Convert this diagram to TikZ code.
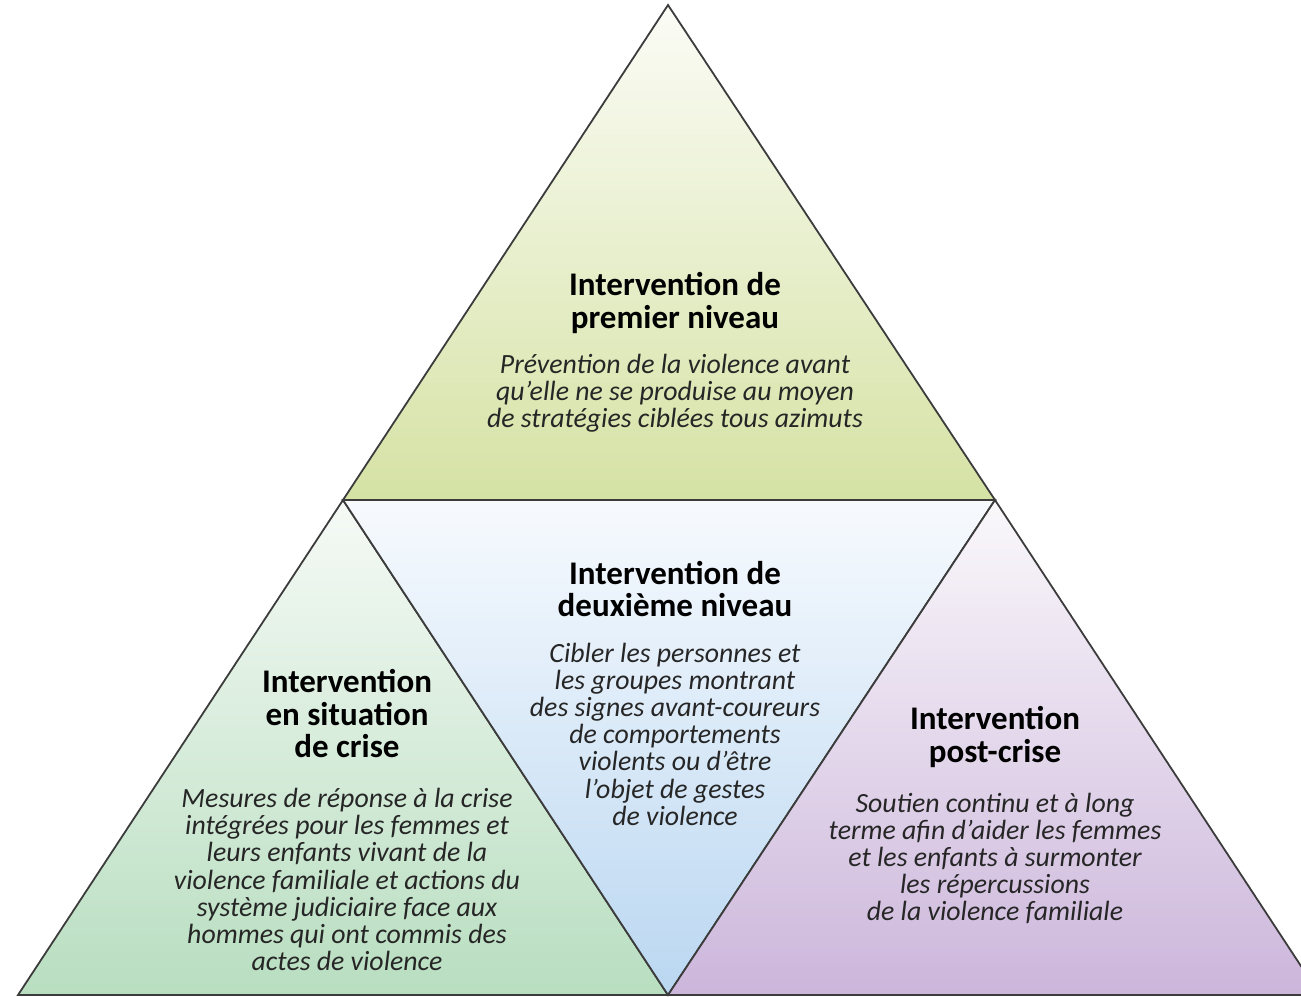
\documentclass[tikz,border=0pt]{standalone}
\usepackage{fontspec}
\setmainfont{Carlito}
\usepackage{tikz}
\usetikzlibrary{positioning}

\definecolor{edgegray}{HTML}{3C3C3C}
\definecolor{firsttop}{HTML}{FBFCF6}
\definecolor{firstbot}{HTML}{D5E2A4}
\definecolor{crisistop}{HTML}{F6FAF6}
\definecolor{crisisbot}{HTML}{B8DEC0}
\definecolor{secondtop}{HTML}{F7FAFE}
\definecolor{secondbot}{HTML}{BAD7F1}
\definecolor{posttop}{HTML}{FAF8FB}
\definecolor{postbot}{HTML}{CCB6DB}

\begin{document}
\begin{tikzpicture}[x=1pt, y=-1pt, node distance={18pt},
	side/.style={draw=edgegray, line width=1.8pt, line join=miter},
	title/.style={font=\fontsize{33}{32.5}\selectfont\bfseries, align=center, inner sep=0pt},
	body/.style={font=\fontsize{27.8}{27.2}\selectfont\itshape, align=center, inner sep=0pt, text=black!85}]
		\useasboundingbox (0,0) rectangle (1301,996);
		\clip (0,0) rectangle (1301,996);

		% corners of the triangles
		\coordinate (apex) at (668,5);
		\coordinate (midL) at (343,500);
		\coordinate (midR) at (995,500);
		\coordinate (baseL) at (18,995);
		\coordinate (baseM) at (668,995);
		\coordinate (baseR) at (1320,995);

		\shade[side, top color=firsttop, bottom color=firstbot] (apex) -- (midR) -- (midL) -- cycle;
		\shade[side, top color=crisistop, bottom color=crisisbot] (midL) -- (baseM) -- (baseL) -- cycle;
		\shade[side, top color=secondtop, bottom color=secondbot] (midL) -- (midR) -- (baseM) -- cycle;
		\shade[side, top color=posttop, bottom color=postbot] (midR) -- (baseR) -- (baseM) -- cycle;

		\node[title] (first) at (675,303) {Intervention de\\premier niveau};
		\node[body] (firsttext) [below=20pt of first] {Prévention de la violence avant\\qu’elle ne se produise au moyen\\de stratégies ciblées tous azimuts};

		\node[title] (second) at (675,589) {Intervention de\\deuxième niveau};
		\node[body] (secondtext) [below=25.5pt of second] {Cibler les personnes et\\les groupes montrant\\des signes avant-coureurs\\de comportements\\violents ou d’être\\l’objet de gestes\\de violence};

		\node[title] (crisis) at (347,714) {Intervention\\en situation\\de crise};
		\node[body] (crisistext) [below=29.5pt of crisis] {Mesures de réponse à la crise\\intégrées pour les femmes et\\leurs enfants vivant de la\\violence familiale et actions du\\système judiciaire face aux\\hommes qui ont commis des\\actes de violence};

		\node[title] (post) at (995,737) {Intervention\\post-crise};
		\node[body] (posttext) [below=25pt of post] {Soutien continu et à long\\terme afin d’aider les femmes\\et les enfants à surmonter\\les répercussions\\de la violence familiale};

	\end{tikzpicture}
\end{document}
